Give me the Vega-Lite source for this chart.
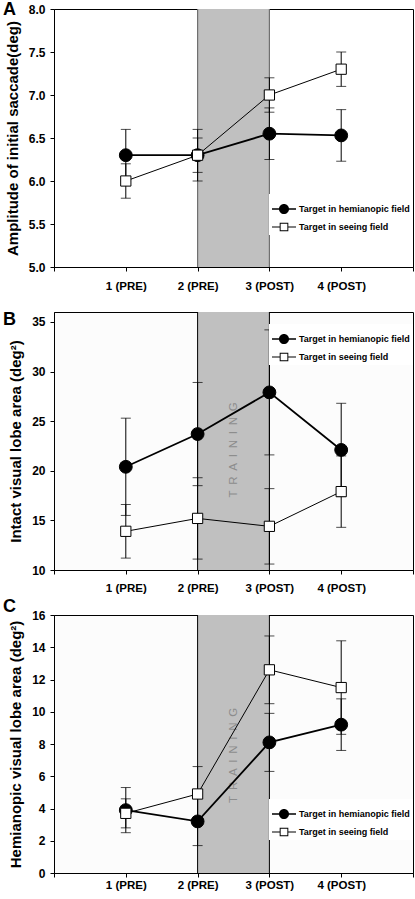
{
  "$schema": "https://vega.github.io/schema/vega-lite/v6.json",
  "padding": {"left": 2, "top": 0, "right": 0, "bottom": 0},
  "background": "white",
  "datasets": {
    "pts": [
      {"panel": "A", "x": 1, "series": "Target in hemianopic field", "mean": 6.3, "lo": 6.0, "hi": 6.6},
      {"panel": "A", "x": 2, "series": "Target in hemianopic field", "mean": 6.3, "lo": 6.0, "hi": 6.6},
      {"panel": "A", "x": 3, "series": "Target in hemianopic field", "mean": 6.55, "lo": 6.25, "hi": 6.85},
      {"panel": "A", "x": 4, "series": "Target in hemianopic field", "mean": 6.53, "lo": 6.23, "hi": 6.83},
      {"panel": "A", "x": 1, "series": "Target in seeing field", "mean": 6.0, "lo": 5.8, "hi": 6.2},
      {"panel": "A", "x": 2, "series": "Target in seeing field", "mean": 6.3, "lo": 6.1, "hi": 6.5},
      {"panel": "A", "x": 3, "series": "Target in seeing field", "mean": 7.0, "lo": 6.8, "hi": 7.2},
      {"panel": "A", "x": 4, "series": "Target in seeing field", "mean": 7.3, "lo": 7.1, "hi": 7.5},
      {"panel": "B", "x": 1, "series": "Target in hemianopic field", "mean": 20.4, "lo": 15.5, "hi": 25.3},
      {"panel": "B", "x": 2, "series": "Target in hemianopic field", "mean": 23.7, "lo": 18.5, "hi": 28.9},
      {"panel": "B", "x": 3, "series": "Target in hemianopic field", "mean": 27.9, "lo": 21.6, "hi": 34.2},
      {"panel": "B", "x": 4, "series": "Target in hemianopic field", "mean": 22.1, "lo": 17.4, "hi": 26.8},
      {"panel": "B", "x": 1, "series": "Target in seeing field", "mean": 13.9, "lo": 11.2, "hi": 16.6},
      {"panel": "B", "x": 2, "series": "Target in seeing field", "mean": 15.2, "lo": 11.1, "hi": 19.3},
      {"panel": "B", "x": 3, "series": "Target in seeing field", "mean": 14.4, "lo": 10.6, "hi": 18.2},
      {"panel": "B", "x": 4, "series": "Target in seeing field", "mean": 17.9, "lo": 14.3, "hi": 21.5},
      {"panel": "C", "x": 1, "series": "Target in hemianopic field", "mean": 3.9, "lo": 2.5, "hi": 5.3},
      {"panel": "C", "x": 2, "series": "Target in hemianopic field", "mean": 3.2, "lo": 1.7, "hi": 4.7},
      {"panel": "C", "x": 3, "series": "Target in hemianopic field", "mean": 8.1, "lo": 6.3, "hi": 9.9},
      {"panel": "C", "x": 4, "series": "Target in hemianopic field", "mean": 9.2, "lo": 7.6, "hi": 10.8},
      {"panel": "C", "x": 1, "series": "Target in seeing field", "mean": 3.7, "lo": 2.8, "hi": 4.6},
      {"panel": "C", "x": 2, "series": "Target in seeing field", "mean": 4.9, "lo": 3.2, "hi": 6.6},
      {"panel": "C", "x": 3, "series": "Target in seeing field", "mean": 12.6, "lo": 10.5, "hi": 14.7},
      {"panel": "C", "x": 4, "series": "Target in seeing field", "mean": 11.5, "lo": 8.6, "hi": 14.4}
    ],
    "band": [{"start": 2, "end": 3}],
    "label": [{"label": "T\u2002R\u2002A\u2002I\u2002N\u2002I\u2002N\u2002G"}]
  },
  "vconcat": [
    {
      "width": 359, "height": 258,
      "title": {"text": "A", "anchor": "start", "frame": "group", "fontSize": 18, "fontWeight": "bold", "font": "Liberation Sans", "color": "black", "offset": 0, "dx": -51, "dy": 30, "baseline": "alphabetic"},
      "view": {"stroke": "black", "fill": "white"},
      "layer": [
        {"data": {"name": "band"}, "mark": {"type": "rect", "color": "#c0c0c0"},
         "encoding": {
           "x": {"field": "start", "type": "quantitative", "scale": {"domain": [0, 5], "nice": false, "zero": false},
                 "axis": {"title": null, "values": [0, 1, 2, 3, 4, 5], "tickCount": 20, "labelExpr": "datum.value == 1 ? '1 (PRE)' : datum.value == 2 ? '2 (PRE)' : datum.value == 3 ? '3 (POST)' : datum.value == 4 ? '4 (POST)' : ''", "tickSize": 4, "labelPadding": 9, "labelFontSize": 11.5, "labelFlush": false, "labelOverlap": false}},
           "x2": {"field": "end"}}},
        {"data": {"name": "band"}, "mark": {"type": "rule", "color": "#707070", "strokeWidth": 1.2},
         "encoding": {"x": {"field": "start", "type": "quantitative"}}},
        {"data": {"name": "band"}, "mark": {"type": "rule", "color": "#707070", "strokeWidth": 1.2},
         "encoding": {"x": {"field": "end", "type": "quantitative"}}},
        {"data": {"name": "pts"}, "transform": [{"filter": "datum.panel == 'A'"}],
         "layer": [
           {"mark": {"type": "rule", "color": "black", "strokeWidth": 1},
            "encoding": {
              "x": {"field": "x", "type": "quantitative"},
              "y": {"field": "lo", "type": "quantitative", "scale": {"domain": [5, 8], "nice": false, "zero": false},
                    "axis": {"title": "Amplitude of initial saccade(deg)", "values": [5, 5.5, 6, 6.5, 7, 7.5, 8], "tickCount": 20, "format": ".1f", "tickSize": 4, "labelPadding": 5, "titlePadding": 8, "labelFontSize": 12, "titleFontSize": 15, "labelOverlap": false}},
              "y2": {"field": "hi"}}},
           {"mark": {"type": "tick", "orient": "horizontal", "size": 10, "thickness": 1, "color": "black"},
            "encoding": {"x": {"field": "x", "type": "quantitative"}, "y": {"field": "lo", "type": "quantitative"}}},
           {"mark": {"type": "tick", "orient": "horizontal", "size": 10, "thickness": 1, "color": "black"},
            "encoding": {"x": {"field": "x", "type": "quantitative"}, "y": {"field": "hi", "type": "quantitative"}}},
           {"transform": [{"filter": "datum.series == 'Target in hemianopic field'"}],
            "mark": {"type": "line", "color": "black", "strokeWidth": 1.8},
            "encoding": {"x": {"field": "x", "type": "quantitative"}, "y": {"field": "mean", "type": "quantitative"}}},
           {"transform": [{"filter": "datum.series == 'Target in seeing field'"}],
            "mark": {"type": "line", "color": "black", "strokeWidth": 1},
            "encoding": {"x": {"field": "x", "type": "quantitative"}, "y": {"field": "mean", "type": "quantitative"}}},
           {"transform": [{"filter": "datum.series == 'Target in hemianopic field'"}],
            "mark": {"type": "point", "shape": "circle", "size": 165, "filled": true, "fill": "black", "stroke": "black", "strokeWidth": 1, "opacity": 1},
            "encoding": {"x": {"field": "x", "type": "quantitative"}, "y": {"field": "mean", "type": "quantitative"}}},
           {"transform": [{"filter": "datum.series == 'Target in seeing field'"}],
            "mark": {"type": "point", "shape": "square", "size": 105, "filled": true, "fill": "white", "stroke": "black", "strokeWidth": 1, "opacity": 1},
            "encoding": {"x": {"field": "x", "type": "quantitative"}, "y": {"field": "mean", "type": "quantitative"}}},
           {"transform": [{"filter": "false"}],
            "mark": {"type": "point", "filled": true, "color": "black", "strokeWidth": 0, "opacity": 1},
            "encoding": {
              "x": {"field": "x", "type": "quantitative"},
              "y": {"field": "mean", "type": "quantitative"},
              "shape": {"field": "series", "scale": {"domain": ["Target in hemianopic field", "Target in seeing field"], "range": ["M-1,-0.07L-0.4,-0.07L-0.4,0.07L-1,0.07ZM0.4,-0.07L1,-0.07L1,0.07L0.4,0.07ZM0.42,0A0.42,0.42,0,1,1,-0.42,0A0.42,0.42,0,1,1,0.42,0Z", "M-1,-0.042L-0.36,-0.042L-0.36,0.042L-1,0.042ZM0.36,-0.042L1,-0.042L1,0.042L0.36,0.042ZM-0.36,-0.36L0.36,-0.36L0.36,0.36L-0.36,0.36ZM-0.28,-0.28L-0.28,0.28L0.28,0.28L0.28,-0.28Z"]},
                        "legend": {"title": null, "orient": "none", "legendX": 215, "legendY": 185, "padding": 3, "fillColor": "white", "labelFontSize": 9, "labelFontWeight": "bold", "labelColor": "black", "labelFont": "Liberation Sans", "symbolSize": 576, "labelOffset": 3, "rowPadding": -10, "symbolFillColor": "black", "symbolStrokeWidth": 0}}}}
         ]}
      ]
    },
    {
      "width": 359, "height": 258,
      "title": {"text": "B", "anchor": "start", "frame": "group", "fontSize": 18, "fontWeight": "bold", "font": "Liberation Sans", "color": "black", "offset": 0, "dx": -51, "dy": 31, "baseline": "alphabetic"},
      "view": {"stroke": "black", "fill": "#fcfcfc"},
      "layer": [
        {"data": {"name": "band"}, "mark": {"type": "rect", "color": "#c0c0c0"},
         "encoding": {
           "x": {"field": "start", "type": "quantitative", "scale": {"domain": [0, 5], "nice": false, "zero": false},
                 "axis": {"title": null, "values": [0, 1, 2, 3, 4, 5], "tickCount": 20, "labelExpr": "datum.value == 1 ? '1 (PRE)' : datum.value == 2 ? '2 (PRE)' : datum.value == 3 ? '3 (POST)' : datum.value == 4 ? '4 (POST)' : ''", "tickSize": 4, "labelPadding": 8, "labelFontSize": 11.5, "labelFlush": false, "labelOverlap": false}},
           "x2": {"field": "end"}}},
        {"data": {"name": "band"}, "mark": {"type": "rule", "color": "black", "strokeWidth": 1},
         "encoding": {"x": {"field": "start", "type": "quantitative"}}},
        {"data": {"name": "band"}, "mark": {"type": "rule", "color": "black", "strokeWidth": 1},
         "encoding": {"x": {"field": "end", "type": "quantitative"}}},
        {"data": {"name": "label"}, "mark": {"type": "text", "angle": 270, "fontSize": 11.5, "color": "#8c8c8c", "font": "Liberation Sans"},
         "encoding": {"text": {"field": "label"},
           "x": {"datum": 2.5, "type": "quantitative"},
           "y": {"datum": 22.1, "type": "quantitative", "scale": {"domain": [10, 36], "nice": false, "zero": false},
                 "axis": {"title": "Intact visual lobe area (deg\u00b2)", "values": [10, 15, 20, 25, 30, 35], "tickCount": 20, "tickSize": 4, "labelPadding": 5, "titlePadding": 8, "labelFontSize": 12, "titleFontSize": 15, "labelOverlap": false}}}},
        {"data": {"name": "pts"}, "transform": [{"filter": "datum.panel == 'B'"}],
         "layer": [
           {"mark": {"type": "rule", "color": "black", "strokeWidth": 1},
            "encoding": {
              "x": {"field": "x", "type": "quantitative"},
              "y": {"field": "lo", "type": "quantitative", "scale": {"domain": [10, 36], "nice": false, "zero": false},
                    "axis": {"title": "Intact visual lobe area (deg\u00b2)", "values": [10, 15, 20, 25, 30, 35], "tickCount": 20, "tickSize": 4, "labelPadding": 5, "titlePadding": 8, "labelFontSize": 12, "titleFontSize": 15, "labelOverlap": false}},
              "y2": {"field": "hi"}}},
           {"mark": {"type": "tick", "orient": "horizontal", "size": 10, "thickness": 1, "color": "black"},
            "encoding": {"x": {"field": "x", "type": "quantitative"}, "y": {"field": "lo", "type": "quantitative"}}},
           {"mark": {"type": "tick", "orient": "horizontal", "size": 10, "thickness": 1, "color": "black"},
            "encoding": {"x": {"field": "x", "type": "quantitative"}, "y": {"field": "hi", "type": "quantitative"}}},
           {"transform": [{"filter": "datum.series == 'Target in hemianopic field'"}],
            "mark": {"type": "line", "color": "black", "strokeWidth": 1.8},
            "encoding": {"x": {"field": "x", "type": "quantitative"}, "y": {"field": "mean", "type": "quantitative"}}},
           {"transform": [{"filter": "datum.series == 'Target in seeing field'"}],
            "mark": {"type": "line", "color": "black", "strokeWidth": 1},
            "encoding": {"x": {"field": "x", "type": "quantitative"}, "y": {"field": "mean", "type": "quantitative"}}},
           {"transform": [{"filter": "datum.series == 'Target in hemianopic field'"}],
            "mark": {"type": "point", "shape": "circle", "size": 165, "filled": true, "fill": "black", "stroke": "black", "strokeWidth": 1, "opacity": 1},
            "encoding": {"x": {"field": "x", "type": "quantitative"}, "y": {"field": "mean", "type": "quantitative"}}},
           {"transform": [{"filter": "datum.series == 'Target in seeing field'"}],
            "mark": {"type": "point", "shape": "square", "size": 105, "filled": true, "fill": "white", "stroke": "black", "strokeWidth": 1, "opacity": 1},
            "encoding": {"x": {"field": "x", "type": "quantitative"}, "y": {"field": "mean", "type": "quantitative"}}},
           {"transform": [{"filter": "false"}],
            "mark": {"type": "point", "filled": true, "color": "black", "strokeWidth": 0, "opacity": 1},
            "encoding": {
              "x": {"field": "x", "type": "quantitative"},
              "y": {"field": "mean", "type": "quantitative"},
              "shape": {"field": "series", "scale": {"domain": ["Target in hemianopic field", "Target in seeing field"], "range": ["M-1,-0.07L-0.4,-0.07L-0.4,0.07L-1,0.07ZM0.4,-0.07L1,-0.07L1,0.07L0.4,0.07ZM0.42,0A0.42,0.42,0,1,1,-0.42,0A0.42,0.42,0,1,1,0.42,0Z", "M-1,-0.042L-0.36,-0.042L-0.36,0.042L-1,0.042ZM0.36,-0.042L1,-0.042L1,0.042L0.36,0.042ZM-0.36,-0.36L0.36,-0.36L0.36,0.36L-0.36,0.36ZM-0.28,-0.28L-0.28,0.28L0.28,0.28L0.28,-0.28Z"]},
                        "legend": {"title": null, "orient": "none", "legendX": 215, "legendY": 12, "padding": 3, "fillColor": "white", "labelFontSize": 9, "labelFontWeight": "bold", "labelColor": "black", "labelFont": "Liberation Sans", "symbolSize": 576, "labelOffset": 3, "rowPadding": -10, "symbolFillColor": "black", "symbolStrokeWidth": 0}}}}
         ]}
      ]
    },
    {
      "width": 359, "height": 258,
      "title": {"text": "C", "anchor": "start", "frame": "group", "fontSize": 18, "fontWeight": "bold", "font": "Liberation Sans", "color": "black", "offset": 0, "dx": -51, "dy": 21, "baseline": "alphabetic"},
      "view": {"stroke": "black", "fill": "#fcfcfc"},
      "layer": [
        {"data": {"name": "band"}, "mark": {"type": "rect", "color": "#c0c0c0"},
         "encoding": {
           "x": {"field": "start", "type": "quantitative", "scale": {"domain": [0, 5], "nice": false, "zero": false},
                 "axis": {"title": null, "values": [0, 1, 2, 3, 4, 5], "tickCount": 20, "labelExpr": "datum.value == 1 ? '1 (PRE)' : datum.value == 2 ? '2 (PRE)' : datum.value == 3 ? '3 (POST)' : datum.value == 4 ? '4 (POST)' : ''", "tickSize": 4, "labelPadding": 2, "labelFontSize": 11.5, "labelFlush": false, "labelOverlap": false}},
           "x2": {"field": "end"}}},
        {"data": {"name": "band"}, "mark": {"type": "rule", "color": "black", "strokeWidth": 1},
         "encoding": {"x": {"field": "start", "type": "quantitative"}}},
        {"data": {"name": "band"}, "mark": {"type": "rule", "color": "black", "strokeWidth": 1},
         "encoding": {"x": {"field": "end", "type": "quantitative"}}},
        {"data": {"name": "label"}, "mark": {"type": "text", "angle": 270, "fontSize": 11.5, "color": "#8c8c8c", "font": "Liberation Sans"},
         "encoding": {"text": {"field": "label"},
           "x": {"datum": 2.5, "type": "quantitative"},
           "y": {"datum": 7.3, "type": "quantitative", "scale": {"domain": [0, 16], "nice": false, "zero": false},
                 "axis": {"title": "Hemianopic visual lobe area (deg\u00b2)", "values": [0, 2, 4, 6, 8, 10, 12, 14, 16], "tickCount": 20, "tickSize": 4, "labelPadding": 5, "titlePadding": 8, "labelFontSize": 12, "titleFontSize": 15, "labelOverlap": false}}}},
        {"data": {"name": "pts"}, "transform": [{"filter": "datum.panel == 'C'"}],
         "layer": [
           {"mark": {"type": "rule", "color": "black", "strokeWidth": 1},
            "encoding": {
              "x": {"field": "x", "type": "quantitative"},
              "y": {"field": "lo", "type": "quantitative", "scale": {"domain": [0, 16], "nice": false, "zero": false},
                    "axis": {"title": "Hemianopic visual lobe area (deg\u00b2)", "values": [0, 2, 4, 6, 8, 10, 12, 14, 16], "tickCount": 20, "tickSize": 4, "labelPadding": 5, "titlePadding": 8, "labelFontSize": 12, "titleFontSize": 15, "labelOverlap": false}},
              "y2": {"field": "hi"}}},
           {"mark": {"type": "tick", "orient": "horizontal", "size": 10, "thickness": 1, "color": "black"},
            "encoding": {"x": {"field": "x", "type": "quantitative"}, "y": {"field": "lo", "type": "quantitative"}}},
           {"mark": {"type": "tick", "orient": "horizontal", "size": 10, "thickness": 1, "color": "black"},
            "encoding": {"x": {"field": "x", "type": "quantitative"}, "y": {"field": "hi", "type": "quantitative"}}},
           {"transform": [{"filter": "datum.series == 'Target in hemianopic field'"}],
            "mark": {"type": "line", "color": "black", "strokeWidth": 1.8},
            "encoding": {"x": {"field": "x", "type": "quantitative"}, "y": {"field": "mean", "type": "quantitative"}}},
           {"transform": [{"filter": "datum.series == 'Target in seeing field'"}],
            "mark": {"type": "line", "color": "black", "strokeWidth": 1},
            "encoding": {"x": {"field": "x", "type": "quantitative"}, "y": {"field": "mean", "type": "quantitative"}}},
           {"transform": [{"filter": "datum.series == 'Target in hemianopic field'"}],
            "mark": {"type": "point", "shape": "circle", "size": 165, "filled": true, "fill": "black", "stroke": "black", "strokeWidth": 1, "opacity": 1},
            "encoding": {"x": {"field": "x", "type": "quantitative"}, "y": {"field": "mean", "type": "quantitative"}}},
           {"transform": [{"filter": "datum.series == 'Target in seeing field'"}],
            "mark": {"type": "point", "shape": "square", "size": 105, "filled": true, "fill": "white", "stroke": "black", "strokeWidth": 1, "opacity": 1},
            "encoding": {"x": {"field": "x", "type": "quantitative"}, "y": {"field": "mean", "type": "quantitative"}}},
           {"transform": [{"filter": "false"}],
            "mark": {"type": "point", "filled": true, "color": "black", "strokeWidth": 0, "opacity": 1},
            "encoding": {
              "x": {"field": "x", "type": "quantitative"},
              "y": {"field": "mean", "type": "quantitative"},
              "shape": {"field": "series", "scale": {"domain": ["Target in hemianopic field", "Target in seeing field"], "range": ["M-1,-0.07L-0.4,-0.07L-0.4,0.07L-1,0.07ZM0.4,-0.07L1,-0.07L1,0.07L0.4,0.07ZM0.42,0A0.42,0.42,0,1,1,-0.42,0A0.42,0.42,0,1,1,0.42,0Z", "M-1,-0.042L-0.36,-0.042L-0.36,0.042L-1,0.042ZM0.36,-0.042L1,-0.042L1,0.042L0.36,0.042ZM-0.36,-0.36L0.36,-0.36L0.36,0.36L-0.36,0.36ZM-0.28,-0.28L-0.28,0.28L0.28,0.28L0.28,-0.28Z"]},
                        "legend": {"title": null, "orient": "none", "legendX": 215, "legendY": 184, "padding": 3, "fillColor": "white", "labelFontSize": 9, "labelFontWeight": "bold", "labelColor": "black", "labelFont": "Liberation Sans", "symbolSize": 576, "labelOffset": 3, "rowPadding": -10, "symbolFillColor": "black", "symbolStrokeWidth": 0}}}}
         ]}
      ]
    }
  ],
  "spacing": 45,
  "bounds": "flush",
  "resolve": {"scale": {"shape": "independent"}, "legend": {"shape": "independent"}},
  "config": {
    "font": "Liberation Sans",
    "view": {"stroke": "black"},
    "axis": {"grid": false, "domainColor": "black", "tickColor": "black", "labelColor": "black", "titleColor": "black", "labelFont": "Liberation Sans", "titleFont": "Liberation Sans", "labelFontWeight": "bold", "titleFontWeight": "bold", "domainWidth": 1, "tickWidth": 1}
  }
}
